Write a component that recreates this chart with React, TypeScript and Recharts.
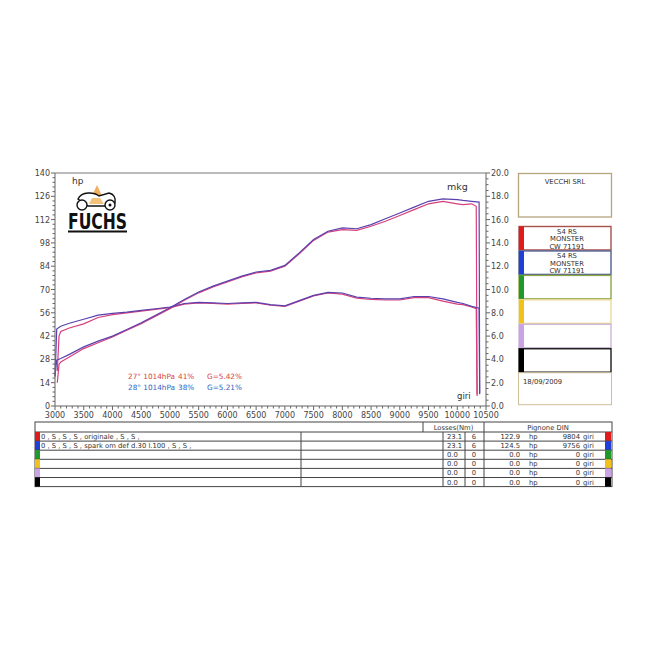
import React from "react";
import { LineChart, Line, XAxis, YAxis, CartesianGrid, ReferenceLine } from "recharts";

// run 1 (red) - originale
const redRpm = [3040, 3070, 3100, 3250, 3500, 3750, 4000, 4250, 4500, 4750, 5000, 5250, 5500, 5750, 6000, 6250, 6500, 6750, 7000, 7250, 7500, 7750, 8000, 8250, 8500, 8750, 9000, 9250, 9500, 9750, 10000, 10100, 10250, 10330, 10345];
const redHp = [14, 25, 26.5, 29.5, 34.5, 38, 41.5, 45.5, 49.5, 54, 58.5, 63.5, 68, 71.5, 74.5, 77.5, 80, 81, 84, 91.5, 99.5, 104.5, 106, 105.5, 108, 111, 114.5, 118, 121.5, 122.9, 121.5, 121, 121.5, 120, 6];
const redMkg = [3.0, 6.0, 6.4, 6.7, 7.05, 7.6, 7.85, 8.0, 8.15, 8.3, 8.45, 8.75, 8.85, 8.8, 8.75, 8.8, 8.85, 8.65, 8.55, 9.0, 9.45, 9.7, 9.6, 9.25, 9.15, 9.1, 9.1, 9.3, 9.3, 9.0, 8.75, 8.7, 8.5, 8.35, 1.0];

// run 2 (blue) - spark om def
const blueRpm = [3000, 3030, 3100, 3250, 3500, 3750, 4000, 4250, 4500, 4750, 5000, 5250, 5500, 5750, 6000, 6250, 6500, 6750, 7000, 7250, 7500, 7750, 8000, 8250, 8500, 8750, 9000, 9250, 9500, 9750, 10000, 10100, 10250, 10380, 10390];
const blueHp = [18, 27.5, 28.5, 31, 35.5, 39, 42, 46, 50, 54.5, 59, 64, 68.5, 72, 75, 78, 80.5, 81.5, 84.5, 92, 100, 105, 107, 106.5, 109, 112.5, 116, 119.5, 123, 124.5, 124, 123.5, 123, 122.5, 8];
const blueMkg = [2.5, 6.6, 6.85, 7.1, 7.45, 7.8, 7.95, 8.05, 8.2, 8.35, 8.5, 8.8, 8.9, 8.85, 8.8, 8.85, 8.9, 8.7, 8.6, 9.05, 9.5, 9.75, 9.7, 9.35, 9.25, 9.2, 9.2, 9.4, 9.4, 9.2, 8.9, 8.8, 8.55, 8.4, 1.0];

const rpmMajor = [3000, 3500, 4000, 4500, 5000, 5500, 6000, 6500, 7000, 7500, 8000, 8500, 9000, 9500, 10000, 10500];
const hpMajor = [0, 14, 28, 42, 56, 70, 84, 98, 112, 126, 140];

const rpmMinor = Array.from({ length: 76 }, (_, i) => 3000 + i * 100);
const hpMinor = Array.from({ length: 51 }, (_, i) => i * 2.8);
const mkgMinor = Array.from({ length: 41 }, (_, i) => i * 0.5);

// table / legend
const rowColors = ["#e01b1b", "#1f3fd6", "#1f9a2a", "#f2c21c", "#c9a3e6", "#000000"];
const rowBorders = ["#a8504a", "#4f5f92", "#8ea64a", "#eadb9c", "#cdb6d8", "#1a1a1a"];
const rowNotes = ["0 , S , S , S , originale , S , S ,", "0 , S , S , S , spark om def d.30 l.100 , S , S ,", "", "", "", ""];
const lossNm = ["23.1", "23.1", "0.0", "0.0", "0.0", "0.0"];
const lossGear = ["6", "6", "0", "0", "0", "0"];
const maxHp = ["122.9", "124.5", "0.0", "0.0", "0.0", "0.0"];
const maxRpm = ["9804", "9756", "0", "0", "0", "0"];
const legendText = [["S4 RS", "MONSTER", "CW 71191"], ["S4 RS", "MONSTER", "CW 71191"], [], [], [], []];

const RED = "#d4407c";
const BLUE = "#5b40ad";
const FONT = "'DejaVu Sans', Verdana, sans-serif";

const toRows = (rpm: number[], hp: number[], mkg: number[]) =>
  rpm.map((r, i) => ({ rpm: r, hp: hp[i], mkg: mkg[i] }));

const redData = toRows(redRpm, redHp, redMkg);
const blueData = toRows(blueRpm, blueHp, blueMkg);

const near = (v: number, step: number) => Math.abs(v / step - Math.round(v / step)) < 1e-6;

const XTick = (p: any) => {
  const major = near(p.payload.value, 500);
  return (
    <g>
      <line x1={p.x} x2={p.x} y1={p.y} y2={p.y + (major ? 4 : 2.5)} stroke="#666" />
      {major && (
        <text x={p.x} y={p.y + 12} textAnchor="middle" fontSize={8} fill="#444" fontFamily={FONT}>
          {p.payload.value}
        </text>
      )}
    </g>
  );
};

const LeftTick = (p: any) => {
  const major = near(p.payload.value, 14);
  return (
    <g>
      <line x1={p.x} x2={p.x - (major ? 4 : 2.5)} y1={p.y} y2={p.y} stroke="#666" />
      {major && (
        <text x={p.x - 5} y={p.y + 3} textAnchor="end" fontSize={8} fill="#444" fontFamily={FONT}>
          {Math.round(p.payload.value)}
        </text>
      )}
    </g>
  );
};

const RightTick = (p: any) => {
  const major = near(p.payload.value, 2);
  return (
    <g>
      <line x1={p.x} x2={p.x + (major ? 4 : 2.5)} y1={p.y} y2={p.y} stroke="#666" />
      {major && (
        <text x={p.x + 5} y={p.y + 3} textAnchor="start" fontSize={8} fill="#444" fontFamily={FONT}>
          {p.payload.value.toFixed(1)}
        </text>
      )}
    </g>
  );
};

const Logo = () => (
  <g>
    <path d="M92 196 L97 185 L102 196 Z" fill="#f0a040" opacity={0.85} />
    <path d="M78 199 C82 191 94 192 99 196 L109 193 C114 194 116 198 115 203 L105 206 L88 206 Z" fill="#fff" stroke="#111" strokeWidth={1.4} />
    <circle cx={82} cy={205} r={5} fill="#fff" stroke="#111" strokeWidth={1.4} />
    <circle cx={110} cy={205} r={5} fill="#fff" stroke="#111" strokeWidth={1.4} />
    <circle cx={110} cy={205} r={1.5} fill="#111" />
    <path d="M89 204 L104 204 L100 198 L92 198 Z" fill="#f3c27a" />
    <text x={68} y={229} fontSize={21} fontWeight={900} fontFamily="'DejaVu Sans Condensed', 'Liberation Sans Narrow', sans-serif" textLength={59} lengthAdjust="spacingAndGlyphs" fill="#111">
      FUCHS
    </text>
    <rect x={68} y={230.5} width={59} height={2} fill="#111" />
  </g>
);

const tableLeft = 35;
const tableRight = 612;
const headTop = 422;
const rowTop = 432;
const rowH = 9.1;

const Table = () => {
  const bottom = rowTop + rowH * rowColors.length;
  return (
    <g fontFamily={FONT} fontSize={6.8} fill="#333">
      <rect x={tableLeft} y={headTop} width={tableRight - tableLeft} height={bottom - headTop} fill="none" stroke="#444" />
      <line x1={423} x2={423} y1={headTop} y2={rowTop} stroke="#444" />
      <line x1={484} x2={484} y1={headTop} y2={bottom} stroke="#444" />
      <text x={453.5} y={rowTop - 2.5} textAnchor="middle">Losses(Nm)</text>
      <text x={548} y={rowTop - 2.5} textAnchor="middle">Pignone DIN</text>
      {rowColors.map((c, i) => {
        const y = rowTop + i * rowH;
        return (
          <g key={i}>
            <line x1={tableLeft} x2={tableRight} y1={y} y2={y} stroke="#444" />
            <line x1={301} x2={301} y1={y} y2={y + rowH} stroke="#444" />
            <line x1={443} x2={443} y1={y} y2={y + rowH} stroke="#444" />
            <line x1={465} x2={465} y1={y} y2={y + rowH} stroke="#444" />
            <rect x={tableLeft} y={y} width={5} height={rowH} fill={c} />
            <rect x={605} y={y} width={6} height={rowH} fill={c} />
            <text x={41} y={y + 7}>{rowNotes[i]}</text>
            <text x={447} y={y + 7}>{lossNm[i]}</text>
            <text x={474} y={y + 7} textAnchor="middle">{lossGear[i]}</text>
            <text x={520} y={y + 7} textAnchor="end">{maxHp[i]}</text>
            <text x={529} y={y + 7}>hp</text>
            <text x={580} y={y + 7} textAnchor="end">{maxRpm[i]}</text>
            <text x={583} y={y + 7}>giri</text>
          </g>
        );
      })}
    </g>
  );
};

const SidePanel = () => {
  const top = 226;
  const h = 24.45;
  return (
    <g fontFamily={FONT} fontSize={6.8} fill="#333">
      <rect x={518.5} y={173.5} width={93} height={43.5} fill="#fff" stroke="#b5a57d" strokeWidth={1.3} />
      <text x={565} y={184} textAnchor="middle">VECCHI SRL</text>
      {rowColors.map((c, i) => {
        const y = top + i * h;
        return (
          <g key={i}>
            <rect x={519} y={y + 0.5} width={92} height={h - 1} fill="#fff" stroke={rowBorders[i]} strokeWidth={1.4} />
            <rect x={519} y={y + 0.5} width={5} height={h - 1} fill={c} />
            {legendText[i].map((t, j) => (
              <text key={j} x={567} y={y + 7.5 + j * 7.6} textAnchor="middle">{t}</text>
            ))}
          </g>
        );
      })}
      <rect x={518.5} y={top + 6 * h} width={93} height={32} fill="#fff" stroke="#cdbf98" strokeWidth={1} />
      <text x={523} y={top + 6 * h + 11}>18/09/2009</text>
    </g>
  );
};

const App = () => {
  return (
    <div style={{ position: "absolute", left: 0, top: 0, width: 650, height: 650, background: "#fff" }}>
      <LineChart width={650} height={425} margin={{ top: 173, right: 134, bottom: 4, left: 30 }}>
        <XAxis
          dataKey="rpm"
          type="number"
          domain={[3000, 10500]}
          ticks={rpmMinor}
          interval={0}
          allowDuplicatedCategory={false}
          height={15}
          tickSize={0}
          tickMargin={0}
          tickLine={false}
          axisLine={{ stroke: "#777" }}
          tick={(p: any) => <XTick {...p} />}
        />
        <YAxis
          yAxisId="left"
          type="number"
          domain={[0, 140]}
          ticks={hpMinor}
          interval={0}
          width={25}
          tickSize={0}
          tickMargin={0}
          tickLine={false}
          axisLine={{ stroke: "#777" }}
          tick={(p: any) => <LeftTick {...p} />}
        />
        <YAxis
          yAxisId="right"
          orientation="right"
          type="number"
          domain={[0, 20]}
          ticks={mkgMinor}
          interval={0}
          width={30}
          tickSize={0}
          tickMargin={0}
          tickLine={false}
          axisLine={{ stroke: "#777" }}
          tick={(p: any) => <RightTick {...p} />}
        />
        <XAxis xAxisId="grid" type="number" domain={[3000, 10500]} ticks={rpmMajor} interval={0} height={0} hide />
        <YAxis yAxisId="grid" type="number" domain={[0, 140]} ticks={hpMajor} interval={0} width={0} hide />
        <CartesianGrid xAxisId="grid" yAxisId="grid" stroke="#dcdcdc" />
        <ReferenceLine yAxisId="left" y={140} stroke="#888" />
        <Line yAxisId="left" data={redData} dataKey="hp" type="linear" stroke={RED} strokeWidth={1.2} dot={false} isAnimationActive={false} />
        <Line yAxisId="right" data={redData} dataKey="mkg" type="linear" stroke={RED} strokeWidth={1.2} dot={false} isAnimationActive={false} />
        <Line yAxisId="left" data={blueData} dataKey="hp" type="linear" stroke={BLUE} strokeWidth={1.2} dot={false} isAnimationActive={false} />
        <Line yAxisId="right" data={blueData} dataKey="mkg" type="linear" stroke={BLUE} strokeWidth={1.2} dot={false} isAnimationActive={false} />
      </LineChart>
      <svg width={650} height={650} style={{ position: "absolute", left: 0, top: 0, pointerEvents: "none" }}>
        <Logo />
        <text x={72} y={184} fontSize={9} fill="#333" fontFamily={FONT}>hp</text>
        <text x={447} y={190} fontSize={9.5} fill="#333" fontFamily={FONT}>mkg</text>
        <text x={457} y={399} fontSize={8.5} fill="#333" fontFamily={FONT}>giri</text>
        <g fontSize={7.3} fontFamily={FONT}>
          <text x={128} y={379} fill="#d8423c">27° 1014hPa</text>
          <text x={178} y={379} fill="#d8423c">41%</text>
          <text x={207} y={379} fill="#d8423c">G=5.42%</text>
          <text x={128} y={390} fill="#2f5fc4">28° 1014hPa</text>
          <text x={178} y={390} fill="#2f5fc4">38%</text>
          <text x={207} y={390} fill="#2f5fc4">G=5.21%</text>
        </g>
        <SidePanel />
        <Table />
      </svg>
    </div>
  );
};

export default App;
